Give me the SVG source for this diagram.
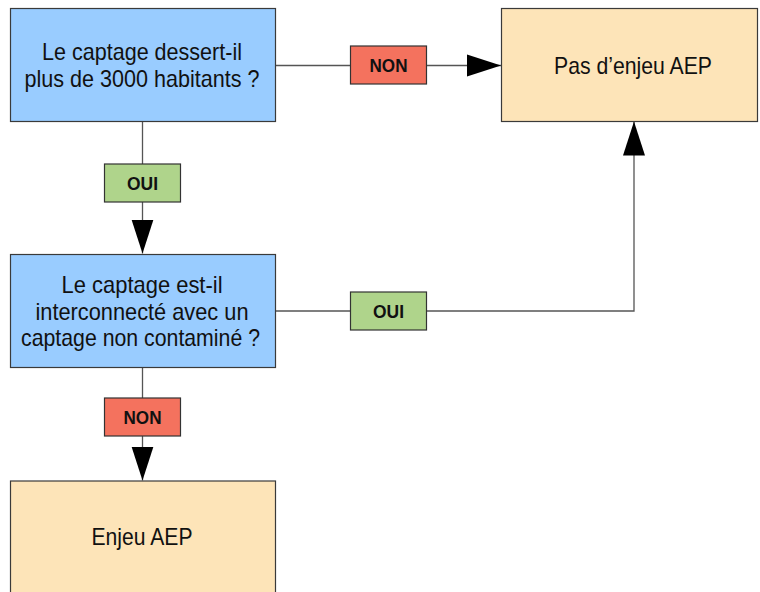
<svg xmlns="http://www.w3.org/2000/svg" width="760" height="592" viewBox="0 0 760 592">
<style>
.box{stroke:#3a3a3a;stroke-width:1.2}
.q{fill:#99ccff}
.r{fill:#fde4b8}
.no{fill:#f4725e;stroke:#333;stroke-width:1.2}
.yes{fill:#afd48b;stroke:#333;stroke-width:1.2}
.t{font-family:"Liberation Sans",Arial,sans-serif;font-size:24px;fill:#111;text-anchor:middle}
.l{font-family:"Liberation Sans",Arial,sans-serif;font-size:18.5px;font-weight:bold;fill:#111;text-anchor:middle}
.c{fill:none;stroke:#555;stroke-width:1.3}
</style>
<defs>
<marker id="ah" markerUnits="userSpaceOnUse" markerWidth="34" markerHeight="24" refX="34" refY="11" orient="auto" viewBox="0 0 34 22">
<path d="M0,0 L34,11 L0,22 Z" fill="#000"/>
</marker>
</defs>
<rect width="760" height="592" fill="#fff"/>
<g id="connectors">
<path class="c" d="M275,65.5 H501" marker-end="url(#ah)"/>
<path class="c" d="M142.5,121 V253.5" marker-end="url(#ah)"/>
<path class="c" d="M275,311 H634 V121.5" marker-end="url(#ah)"/>
<path class="c" d="M142.5,368 V480.5" marker-end="url(#ah)"/>
<g id="label-non1"><rect class="no" x="350.5" y="46" width="76" height="38"/><text class="l" x="388.5" y="71.5" textLength="38" lengthAdjust="spacingAndGlyphs">NON</text></g>
<g id="label-oui1"><rect class="yes" x="104.5" y="164" width="76" height="38"/><text class="l" x="142.5" y="189.5" textLength="31" lengthAdjust="spacingAndGlyphs">OUI</text></g>
<g id="label-oui2"><rect class="yes" x="350.5" y="292" width="76" height="38"/><text class="l" x="388.5" y="317.5" textLength="31" lengthAdjust="spacingAndGlyphs">OUI</text></g>
<g id="label-non2"><rect class="no" x="104.5" y="398" width="76" height="38"/><text class="l" x="142.5" y="423.5" textLength="38" lengthAdjust="spacingAndGlyphs">NON</text></g>
</g>
<g id="q1">
<rect class="box q" x="10.5" y="8.5" width="265" height="113"/>
<text class="t" x="142" y="59.5" textLength="200" lengthAdjust="spacingAndGlyphs">Le captage dessert-il</text>
<text class="t" x="142" y="87" textLength="235" lengthAdjust="spacingAndGlyphs">plus de 3000 habitants ?</text>
</g>
<g id="no-stake">
<rect class="box r" x="501.5" y="8.5" width="256" height="113"/>
<text class="t" x="633" y="74" textLength="158" lengthAdjust="spacingAndGlyphs">Pas d’enjeu AEP</text>
</g>
<g id="q2">
<rect class="box q" x="10.5" y="254.5" width="265" height="113"/>
<text class="t" x="142" y="293" textLength="161" lengthAdjust="spacingAndGlyphs">Le captage est-il</text>
<text class="t" x="142" y="319.5" textLength="213" lengthAdjust="spacingAndGlyphs">interconnecté avec un</text>
<text class="t" x="140.5" y="346" textLength="239" lengthAdjust="spacingAndGlyphs">captage non contaminé ?</text>
</g>
<g id="stake">
<rect class="box r" x="10.5" y="481" width="265" height="120"/>
<text class="t" x="142" y="545" textLength="101" lengthAdjust="spacingAndGlyphs">Enjeu AEP</text>
</g>
</svg>
